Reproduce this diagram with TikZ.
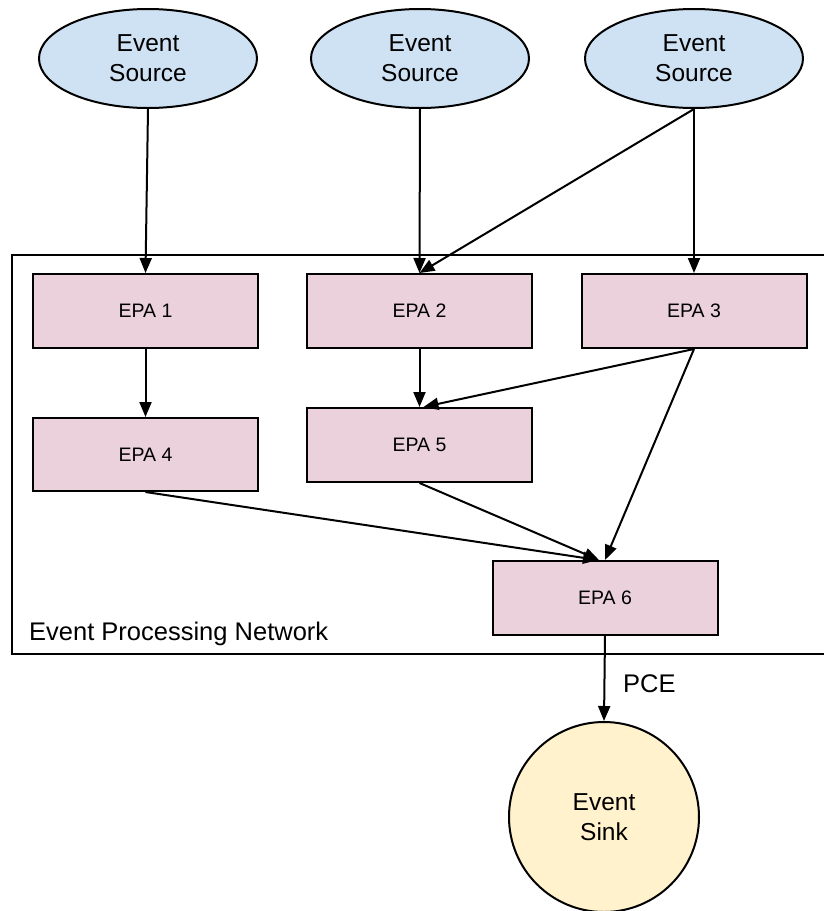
\documentclass[tikz,border=0pt]{standalone}
\usepackage{fontspec}
\setmainfont{Liberation Sans}
\usetikzlibrary{shapes.geometric,arrows.meta}
\definecolor{srcblue}{HTML}{CFE2F3}
\definecolor{epapink}{HTML}{EAD1DC}
\definecolor{sinkyel}{HTML}{FFF2CC}
\begin{document}
\begin{tikzpicture}[x=1pt,y=-1pt,
  src/.style={ellipse,draw,line width=2pt,fill=srcblue,minimum width=218pt,minimum height=99pt,inner sep=0pt,align=center,font=\fontsize{24.5}{30}\selectfont},
  epabox/.style={rectangle,draw,line width=2pt,fill=epapink,minimum width=225pt,minimum height=74pt,inner sep=0pt,font=\fontsize{19.5}{22}\selectfont},
  sinkc/.style={circle,draw,line width=2pt,fill=sinkyel,minimum size=190pt,inner sep=0pt,align=center,font=\fontsize{24.5}{29.5}\selectfont},
  conn/.style={line width=2pt,-{Triangle[length=15pt,width=12pt]}},
  lbl/.style={font=\fontsize{25.5}{30}\selectfont,inner sep=0pt}]
\useasboundingbox (0,0) rectangle (824,911);
% outer network frame
\draw[line width=2pt] (860,255) -- (12,255) -- (12,654) -- (860,654);
% sources
\node[src] (s1) at (148,58.5) {Event\\Source};
\node[src] (s2) at (420,58.5) {Event\\Source};
\node[src] (s3) at (694,58.5) {Event\\Source};
% EPAs
\node[epabox] (e1) at (145.5,311) {EPA 1};
\node[epabox] (e2) at (419.5,311) {EPA 2};
\node[epabox] (e3) at (694,311) {EPA 3};
\node[epabox,minimum height=73pt] (e4) at (145.5,454.5) {EPA 4};
\node[epabox] (e5) at (419.5,445) {EPA 5};
\node[epabox] (e6) at (605,598) {EPA 6};
% sink
\node[sinkc] (k) at (604,817) {Event\\Sink};
% labels
\node[lbl,anchor=base west] (net) at (29,640) {Event Processing Network};
\node[lbl,anchor=base west] (pce) at (623,692) {PCE};
% connectors
\draw[conn] (s1.south) -- (e1.north);
\draw[conn] (s2.south) -- (e2.north);
\draw[conn] (s3.south) -- (e3.north);
\draw[conn] (s3.south) -- (e2.north);
\draw[conn] (e1.south) -- (e4.north);
\draw[conn] (e2.south) -- (e5.north);
\draw[conn] (e3.south) -- ([xshift=4pt]e5.north);
\draw[conn] (e3.south) -- (e6.north);
\draw[conn] (e4.south) -- ([xshift=-7pt]e6.north);
\draw[conn] (e5.south) -- ([xshift=-6pt]e6.north);
\draw[conn] (e6.south) -- (k.north);
\end{tikzpicture}
\end{document}
